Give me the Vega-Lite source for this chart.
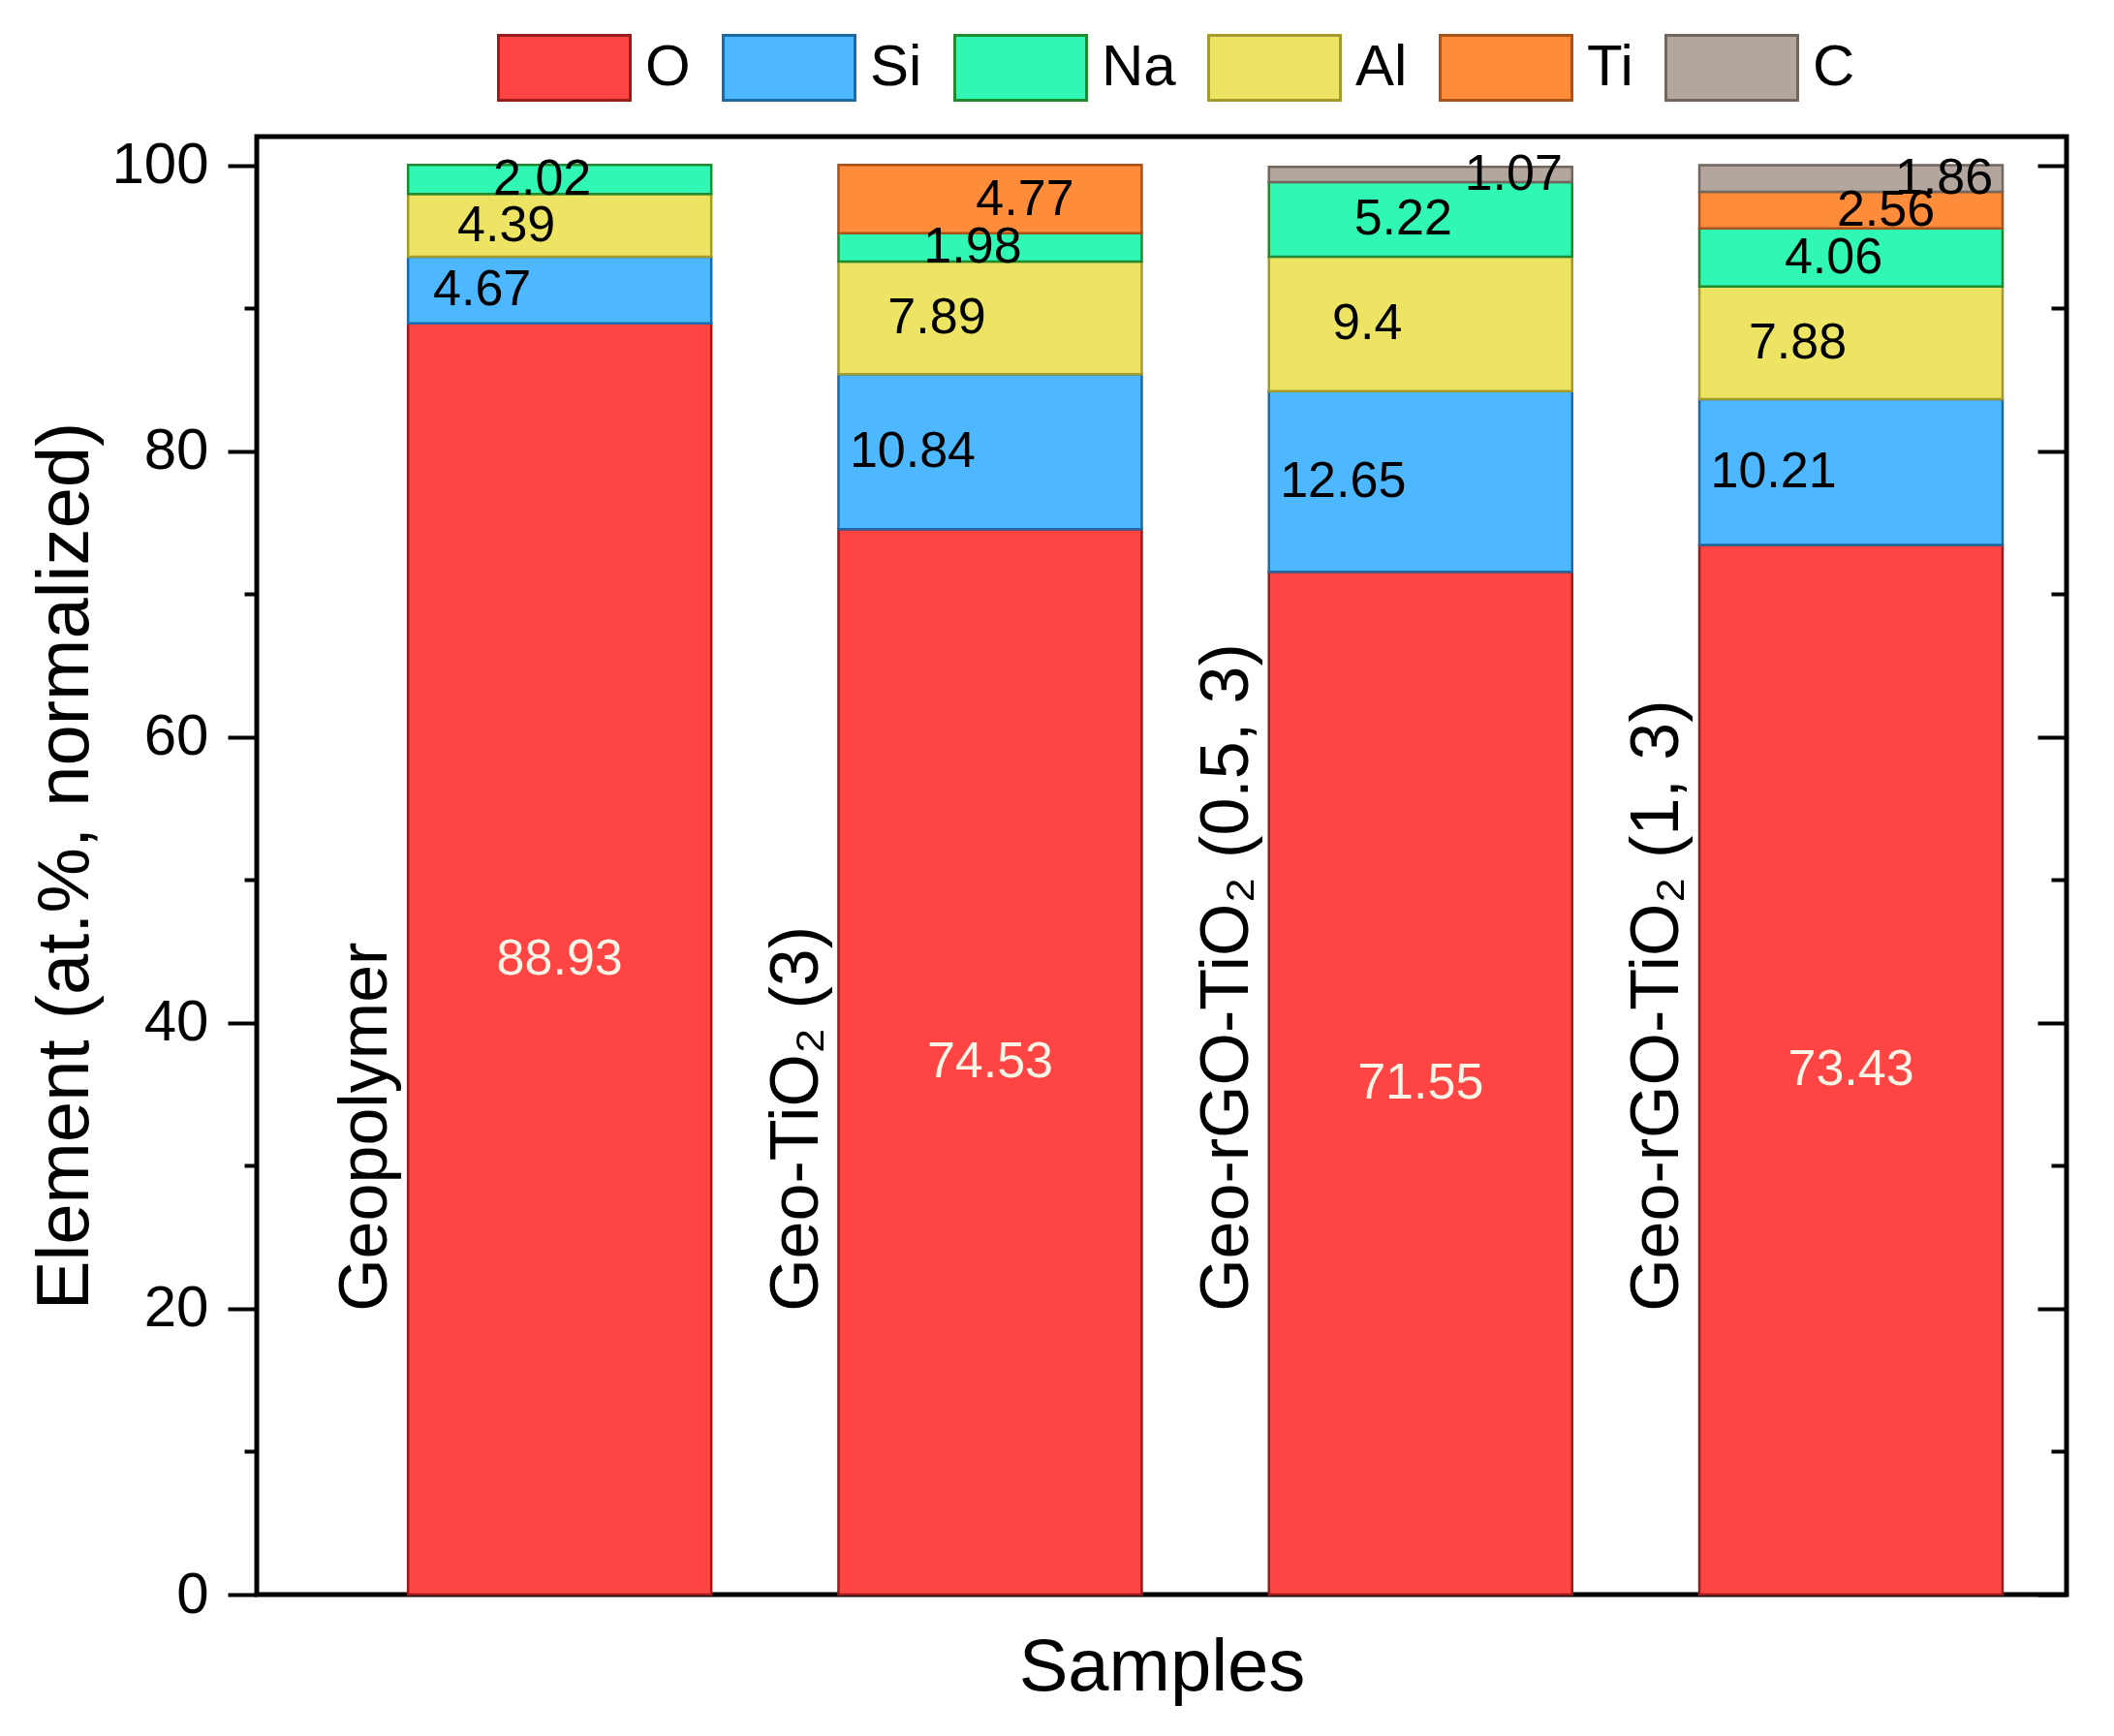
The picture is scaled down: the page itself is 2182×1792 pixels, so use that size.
{
  "$schema": "https://vega.github.io/schema/vega-lite/v6.json",
  "width": 1868,
  "height": 1505,
  "autosize": "none",
  "padding": {"left": 265, "top": 141, "right": 49, "bottom": 146},
  "background": "white",
  "config": {
    "font": "Liberation Sans",
    "view": {"stroke": "#000000", "strokeWidth": 5},
    "axis": {
      "labelFont": "Liberation Sans",
      "titleFont": "Liberation Sans",
      "titleFontWeight": "normal",
      "labelColor": "#000000",
      "titleColor": "#000000",
      "grid": false
    }
  },
  "data": {
    "values": [
      {"sample": "Geopolymer", "element": "O", "value": 88.93},
      {"sample": "Geopolymer", "element": "Si", "value": 4.67},
      {"sample": "Geopolymer", "element": "Al", "value": 4.39},
      {"sample": "Geopolymer", "element": "Na", "value": 2.02},
      {"sample": "Geo-TiO₂ (3)", "element": "O", "value": 74.53},
      {"sample": "Geo-TiO₂ (3)", "element": "Si", "value": 10.84},
      {"sample": "Geo-TiO₂ (3)", "element": "Al", "value": 7.89},
      {"sample": "Geo-TiO₂ (3)", "element": "Na", "value": 1.98},
      {"sample": "Geo-TiO₂ (3)", "element": "Ti", "value": 4.77},
      {"sample": "Geo-rGO-TiO₂ (0.5, 3)", "element": "O", "value": 71.55},
      {"sample": "Geo-rGO-TiO₂ (0.5, 3)", "element": "Si", "value": 12.65},
      {"sample": "Geo-rGO-TiO₂ (0.5, 3)", "element": "Al", "value": 9.4},
      {"sample": "Geo-rGO-TiO₂ (0.5, 3)", "element": "Na", "value": 5.22},
      {"sample": "Geo-rGO-TiO₂ (0.5, 3)", "element": "C", "value": 1.07},
      {"sample": "Geo-rGO-TiO₂ (1, 3)", "element": "O", "value": 73.43},
      {"sample": "Geo-rGO-TiO₂ (1, 3)", "element": "Si", "value": 10.21},
      {"sample": "Geo-rGO-TiO₂ (1, 3)", "element": "Al", "value": 7.88},
      {"sample": "Geo-rGO-TiO₂ (1, 3)", "element": "Na", "value": 4.06},
      {"sample": "Geo-rGO-TiO₂ (1, 3)", "element": "Ti", "value": 2.56},
      {"sample": "Geo-rGO-TiO₂ (1, 3)", "element": "C", "value": 1.86}
    ]
  },
  "transform": [
    {"calculate": "indexof(['O','Si','Al','Na','Ti','C'], datum.element)", "as": "ord"}
  ],
  "encoding": {
    "x": {
      "field": "sample",
      "type": "nominal",
      "sort": null,
      "scale": {"paddingInner": 0.2955, "paddingOuter": 0.25, "align": 0.703},
      "axis": {
        "title": "Samples",
        "labels": false,
        "ticks": false,
        "domain": false,
        "titleFontSize": 76,
        "titlePadding": 38
      }
    }
  },
  "layer": [
    {
      "layer": [
        {
          "mark": {"type": "bar", "strokeWidth": 2.5},
          "encoding": {
            "y": {
              "field": "value",
              "type": "quantitative",
              "stack": "zero",
              "scale": {"domain": [0, 102], "nice": false},
              "axis": {
                "orient": "left",
                "values": [0, 10, 20, 30, 40, 50, 60, 70, 80, 90, 100],
                "title": "Element (at.%, normalized)",
                "titleFontSize": 76,
                "titlePadding": 8,
                "labelFontSize": 60,
                "labelPadding": 20,
                "labelExpr": "datum.value % 20 === 0 ? datum.label : ''",
                "tickSize": {"condition": {"test": "datum.value % 20 !== 0", "value": 13}, "value": 30},
                "tickWidth": 4,
                "tickColor": "#000000",
                "domain": false
              }
            },
            "color": {
              "field": "element",
              "type": "nominal",
              "scale": {
                "domain": ["O", "Si", "Na", "Al", "Ti", "C"],
                "range": ["#ff4444", "#4db8ff", "#30f8b4", "#ece462", "#ff8c3a", "#b3a69e"]
              },
              "legend": {
                "orient": "none",
                "legendX": 248,
                "legendY": -141,
                "direction": "horizontal",
                "columns": 6,
                "title": null,
                "symbolType": "M-1,-0.493H1V0.493H-1Z",
                "symbolSize": 18496,
                "symbolStrokeWidth": 3,
                "labelFontSize": 60,
                "labelFont": "Liberation Sans",
                "labelColor": "#000000",
                "labelOffset": 14,
                "columnPadding": 27
              }
            },
            "stroke": {
              "field": "element",
              "type": "nominal",
              "scale": {
                "domain": ["O", "Si", "Na", "Al", "Ti", "C"],
                "range": ["#9c1b1b", "#1c6aa6", "#1f8a2f", "#a39c2c", "#a9531a", "#72665e"]
              }
            },
            "order": {"field": "ord", "type": "quantitative"}
          }
        },
        {
          "mark": {
            "type": "text",
            "fontSize": 52,
            "font": "Liberation Sans",
            "baseline": "middle",
            "dx": {"expr": "datum.element === 'Si' ? -80 : datum.element === 'Al' ? -55 : datum.element === 'Na' ? -18 : datum.element === 'Ti' ? 36 : datum.element === 'C' ? 96 : 0"}
          },
          "encoding": {
            "y": {
              "field": "value",
              "type": "quantitative",
              "stack": "zero",
              "bandPosition": 0.5,
              "scale": {"domain": [0, 102], "nice": false}
            },
            "detail": {"field": "element"},
            "order": {"field": "ord", "type": "quantitative"},
            "text": {"field": "value", "type": "nominal"},
            "color": {"condition": {"test": "datum.element === 'O'", "value": "#f8f4e6"}, "value": "#000000"}
          }
        },
        {
          "transform": [{"filter": "datum.element === 'O'"}],
          "mark": {
            "type": "text",
            "fontSize": 70,
            "font": "Liberation Sans",
            "angle": 270,
            "align": "left",
            "baseline": "middle",
            "color": "#000000"
          },
          "encoding": {
            "x": {"field": "sample", "type": "nominal", "sort": null, "bandPosition": -0.137},
            "y": {"datum": 19.8, "type": "quantitative", "scale": {"domain": [0, 102], "nice": false}},
            "text": {"field": "sample"}
          }
        }
      ]
    },
    {
      "mark": {"type": "point", "opacity": 0},
      "encoding": {
        "y": {
          "field": "value",
          "type": "quantitative",
          "scale": {"domain": [0, 102], "nice": false},
          "axis": {
            "orient": "right",
            "values": [0, 10, 20, 30, 40, 50, 60, 70, 80, 90, 100],
            "labels": false,
            "title": null,
            "domain": false,
            "tickSize": {"condition": {"test": "datum.value % 20 !== 0", "value": -16}, "value": -30},
            "tickWidth": 4,
            "tickColor": "#000000"
          }
        }
      }
    }
  ],
  "resolve": {"scale": {"y": "independent"}}
}
